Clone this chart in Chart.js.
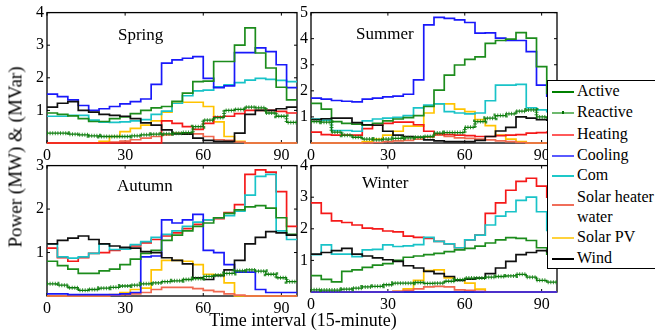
<!DOCTYPE html>
<html>
<head>
<meta charset="utf-8">
<script src="https://cdn.jsdelivr.net/npm/chart.js@4.4.0/dist/chart.umd.min.js"></script>
<style>
  html, body { margin:0; padding:0; background:#fff; }
  body { width:655px; height:332px; position:relative; overflow:hidden; font-family:'Liberation Serif','Times New Roman',serif; color:#000; }
  canvas { position:absolute; }
  .plabel { position:absolute; font-size:17px; line-height:17px; white-space:nowrap; }
  #legend { position:absolute; left:547px; top:80px; width:120px; height:187px; border:1.5px solid #000; background:#fff; z-index:5; }
  .lrow { position:absolute; left:29px; font-size:16px; line-height:16px; white-space:nowrap; }
  .lline { position:absolute; left:4px; width:22px; height:2px; }
</style>
</head>
<body>
<canvas id="c0" width="286" height="165" style="left:17px;top:0px;"></canvas>
<canvas id="c1" width="282" height="165" style="left:281px;top:0px;"></canvas>
<canvas id="c2" width="286" height="165" style="left:17px;top:153px;"></canvas>
<canvas id="c3" width="282" height="161" style="left:281px;top:153px;"></canvas>

<div class="plabel" style="left:118px;top:26px;">Spring</div>
<div class="plabel" style="left:356px;top:25px;">Summer</div>
<div class="plabel" style="left:117px;top:177px;">Autumn</div>
<div class="plabel" style="left:362px;top:174px;">Winter</div>

<div id="legend"></div>

<div style="position:absolute;left:15px;top:157px;transform:translate(-50%,-50%) rotate(-90deg);white-space:nowrap;font-size:19px;line-height:19px;">Power (MW) &amp; (MVar)</div>
<div style="position:absolute;left:303px;top:311px;transform:translateX(-50%);white-space:nowrap;font-size:18px;line-height:18px;">Time interval (15-minute)</div>

<script>
// ---------------- data ----------------
const intervals = [0,4,8,12,16,20,24,28,32,36,40,44,48,52,56,60,64,68,72,76,80,84,88,92]; // start of each hourly step (15-min index)
const dayEnd = 96;
const xTicks = [0,30,60,90];
const seriesNames = ['Active','Reactive','Heating','Cooling','Com','Solar heater water','Solar PV','Wind'];
const seasonNames = ['Spring','Summer','Autumn','Winter'];
const yMaxes = [4,5,3,4];

// Spring
const activeSpring   = [0.92,0.88,0.83,0.75,0.66,0.66,0.75,0.8,0.9,1.0,1.08,1.12,1.28,1.53,1.88,1.9,2.5,2.5,3.0,3.53,2.76,2.3,1.71,1.32];
const reactiveSpring = [0.3,0.3,0.27,0.25,0.22,0.2,0.2,0.2,0.22,0.25,0.27,0.28,0.3,0.32,0.5,0.7,0.78,1.0,1.03,1.1,1.08,0.92,0.82,0.63];
const heatingSpring  = [0,0,0,0,0,0,0,0,0,0,0,0.68,0.6,0.5,0.42,0.6,0.8,0.82,0.9,1.0,1.0,1.0,0.97,0.92];
const coolingSpring  = [1.5,1.42,1.32,1.15,1.0,1.05,1.12,1.2,1.27,1.35,1.8,2.45,2.55,2.6,2.65,1.98,1.7,1.75,2.77,2.77,2.92,2.8,2.4,1.7];
const comSpring      = [0.82,0.82,0.85,0.85,0.7,0.64,0.63,0.65,0.68,0.72,0.88,0.98,1.22,1.45,1.6,1.62,1.72,1.78,1.85,1.93,1.98,1.95,1.92,1.88];
const shwSpring      = [0,0,0,0,0,0,0.03,0.06,0.1,0.15,0.2,0.25,0.3,0.3,0.28,0.2,0.1,0.08,0.03,0,0,0,0,0];
const pvSpring       = [0,0,0,0,0,0.05,0.2,0.35,0.45,0.55,0.68,0.95,1.25,1.25,1.25,1.12,0.65,0.2,0.05,0,0,0,0,0];
const windSpring     = [1.1,1.22,1.27,1.0,0.95,0.88,0.85,0.82,0.75,0.62,0.55,0.4,0.28,0.27,0.15,0.08,0.05,0.05,0.3,0.88,1.0,1.0,1.05,1.1];

// Summer
const activeSummer   = [1.52,1.3,0.82,0.75,0.72,0.68,0.75,0.85,0.92,0.97,1.05,1.4,2.03,2.6,2.99,3.21,3.3,3.82,3.93,3.98,4.23,4.02,2.93,1.9];
const reactiveSummer = [0.82,0.8,0.42,0.3,0.22,0.15,0.12,0.15,0.18,0.2,0.22,0.25,0.38,0.4,0.4,0.6,0.82,0.95,1.05,1.12,1.22,1.27,1.0,0.95];
const heatingSummer  = [0.42,0.32,0.3,0.3,0.3,0.55,0.68,0.75,0.8,0.8,0.7,0.45,0.35,0.32,0.3,0.28,0.25,0.25,0.28,0.3,0.32,0.38,0.4,0.42];
const coolingSummer  = [1.72,1.68,1.63,1.6,1.58,1.68,1.72,1.77,1.8,1.87,2.42,4.53,4.82,4.78,4.72,4.62,4.21,4.22,4.02,3.93,3.93,3.5,2.22,1.8];
const comSummer      = [0.92,0.88,0.48,0.48,0.45,0.85,0.92,0.95,0.98,1.05,1.35,1.45,1.5,1.2,1.15,1.12,1.15,1.62,2.22,2.22,2.25,1.35,1.27,1.2];
const shwSummer      = [0,0,0,0,0,0,0.02,0.05,0.08,0.1,0.15,0.22,0.3,0.25,0.2,0.18,0.15,0.12,0.08,0.05,0.02,0,0,0];
const pvSummer       = [0,0,0,0,0,0.05,0.15,0.3,0.45,0.65,0.65,1.15,1.5,1.5,1.3,1.2,0.9,0.67,0.3,0.15,0.05,0,0,0];
const windSummer     = [0.9,0.93,0.95,0.95,0.78,0.7,0.68,0.45,0.3,0.25,0.22,0.12,0.08,0.05,0.05,0.05,0.1,0.25,0.46,0.6,1.0,0.95,0.9,0.88];

// Autumn
const activeAutumn   = [0.8,0.7,0.62,0.52,0.52,0.58,0.62,0.72,0.85,0.98,1.05,1.28,1.4,1.5,1.6,1.68,1.8,1.9,1.98,2.05,2.08,2.02,1.8,1.42];
const reactiveAutumn = [0.28,0.25,0.19,0.13,0.15,0.18,0.2,0.23,0.25,0.28,0.3,0.33,0.35,0.38,0.4,0.45,0.48,0.52,0.58,0.6,0.57,0.5,0.42,0.33];
const heatingAutumn  = [1.1,0.88,0.8,0.88,0.98,1.0,1.05,1.08,1.15,1.22,1.3,1.38,1.45,1.55,1.65,1.75,1.78,1.92,2.1,2.8,2.9,2.85,2.4,1.6];
const coolingAutumn  = [0.05,0.05,0.03,0.03,0.03,0.03,0.03,0.05,0.08,0.9,0.92,1.75,1.68,1.75,1.88,1.05,1.0,0.72,0.55,0.55,0.15,0.08,0.08,0.08];
const comAutumn      = [1.2,0.9,0.87,0.9,0.98,1.2,1.07,1.08,1.18,1.25,1.35,1.42,1.5,1.6,1.7,1.75,1.8,1.85,1.95,2.32,2.75,2.8,1.5,1.3];
const shwAutumn      = [0,0,0,0,0,0,0.02,0.03,0.05,0.08,0.15,0.2,0.2,0.2,0.17,0.13,0.1,0.05,0.02,0,0,0,0,0];
const pvAutumn       = [0,0,0,0,0,0,0.03,0.08,0.15,0.18,0.6,0.82,0.82,0.8,0.72,0.5,0.48,0.3,0,0,0,0,0,0];
const windAutumn     = [1.2,1.28,1.33,1.38,1.3,1.2,1.15,1.12,1.1,1.02,1.0,0.88,0.82,0.74,0.42,0.38,0.47,0.6,0.82,1.2,1.35,1.48,1.45,1.4];

// Winter
const activeWinter   = [0.52,0.4,0.32,0.65,0.7,0.78,0.85,0.9,1.0,1.1,1.14,1.18,1.22,1.28,1.33,1.38,1.45,1.55,1.65,1.72,1.7,1.63,1.4,1.2];
const reactiveWinter = [0.07,0.06,0.06,0.09,0.12,0.16,0.18,0.23,0.28,0.28,0.3,0.27,0.28,0.34,0.39,0.44,0.44,0.47,0.49,0.51,0.56,0.47,0.37,0.31];
const heatingWinter  = [2.82,2.49,2.25,2.2,2.12,2.02,2.0,1.93,1.9,1.77,1.73,1.7,1.6,1.52,1.4,1.65,1.8,2.49,2.82,3.22,3.5,3.6,3.35,3.0];
const coolingWinter  = [0,0,0,0,0,0,0,0,0,0,0,0,0,0,0,0,0,0,0,0,0,0,0,0];
const comWinter      = [1.18,1.49,1.2,1.2,1.12,1.33,1.35,1.49,1.44,1.46,1.5,1.73,1.6,1.52,1.4,1.65,1.8,2.12,2.4,2.54,2.9,3.0,2.54,1.95];
const shwWinter      = [0,0,0,0,0,0,0,0,0.02,0.05,0.1,0.16,0.18,0.16,0.07,0.05,0.02,0,0,0,0,0,0,0];
const pvWinter       = [0,0,0,0,0,0,0,0,0.02,0.1,0.37,0.68,0.7,0.45,0.38,0.28,0.09,0,0,0,0,0,0,0];
const windWinter     = [1.2,1.25,1.31,1.38,1.2,1.14,1.08,1.02,0.97,0.83,0.76,0.65,0.58,0.49,0.37,0.41,0.44,0.58,0.76,0.97,1.18,1.25,1.31,1.28];

const seasonData = [
  [activeSpring, reactiveSpring, heatingSpring, coolingSpring, comSpring, shwSpring, pvSpring, windSpring],
  [activeSummer, reactiveSummer, heatingSummer, coolingSummer, comSummer, shwSummer, pvSummer, windSummer],
  [activeAutumn, reactiveAutumn, heatingAutumn, coolingAutumn, comAutumn, shwAutumn, pvAutumn, windAutumn],
  [activeWinter, reactiveWinter, heatingWinter, coolingWinter, comWinter, shwWinter, pvWinter, windWinter]
];

// ---------------- styles ----------------
const colors = {
  'Active': 'rgb(28,140,28)',
  'Reactive': 'rgb(10,120,10)',
  'Heating': 'rgb(245,25,25)',
  'Cooling': 'rgb(25,25,250)',
  'Com': 'rgb(25,195,200)',
  'Solar heater water': 'rgb(240,105,80)',
  'Solar PV': 'rgb(255,195,0)',
  'Wind': 'rgb(15,15,15)'
};
const legendColors = {
  'Active': 'rgb(0,128,0)',
  'Reactive': 'rgb(110,185,110)',
  'Heating': 'rgb(255,90,90)',
  'Cooling': 'rgb(90,90,255)',
  'Com': 'rgb(30,200,200)',
  'Solar heater water': 'rgb(240,110,90)',
  'Solar PV': 'rgb(255,210,60)',
  'Wind': 'rgb(0,0,0)'
};
const drawOrder = ['Reactive','Wind','Active','Cooling','Com','Heating','Solar heater water','Solar PV'];

Chart.defaults.font.family = "'Liberation Serif','Times New Roman',serif";
Chart.defaults.font.size = 16;
Chart.defaults.color = '#000';

function pts(vals) {
  const p = intervals.map((x, i) => ({x: x, y: vals[i]}));
  p.push({x: dayEnd, y: vals[vals.length - 1]});
  return p;
}

const framePlugin = {
  id: 'frame',
  beforeDatasetsDraw(chart) {
    const {ctx, chartArea: a, scales} = chart;
    const xs = scales.x, ys = scales.y;
    ctx.save();
    ctx.strokeStyle = '#000';
    ctx.lineWidth = 1.3;
    ctx.strokeRect(a.left, a.top, a.right - a.left, a.bottom - a.top);
    ctx.lineWidth = 1;
    ctx.beginPath();
    xs.ticks.forEach(t => {
      const px = xs.getPixelForValue(t.value);
      ctx.moveTo(px, a.bottom); ctx.lineTo(px, a.bottom - 3);
      ctx.moveTo(px, a.top); ctx.lineTo(px, a.top + 3);
    });
    ys.ticks.forEach(t => {
      const py = ys.getPixelForValue(t.value);
      ctx.moveTo(a.left, py); ctx.lineTo(a.left + 3, py);
      ctx.moveTo(a.right, py); ctx.lineTo(a.right - 3, py);
    });
    ctx.stroke();
    ctx.restore();
  }
};

function buildDatasets(si) {
  const ds = [];
  drawOrder.forEach(name => {
    const vals = seasonData[si][seriesNames.indexOf(name)];
    if (name === 'Reactive') {
      ds.push({label: name + ' markers', data: pts(vals), stepped: true, borderColor: 'rgba(20,130,20,0.85)',
        borderWidth: 4, borderDash: [1, 1.6], pointRadius: 0, fill: false, clip: 4});
      ds.push({label: name, data: pts(vals), stepped: true, borderColor: colors[name],
        borderWidth: 1.3, pointRadius: 0, fill: false, clip: 4});
    } else {
      ds.push({label: name, data: pts(vals), stepped: true, borderColor: colors[name],
        borderWidth: 1.7, pointRadius: 0, fill: false, clip: 4});
    }
  });
  return ds;
}

seasonNames.forEach((season, si) => {
  new Chart(document.getElementById('c' + si), {
    type: 'line',
    data: { datasets: buildDatasets(si) },
    options: {
      responsive: false,
      animation: false,
      devicePixelRatio: 1,
      layout: { padding: { top: 12, right: 6, left: 0, bottom: 0 } },
      plugins: { legend: { display: false }, tooltip: { enabled: false }, title: { display: false } },
      scales: {
        x: {
          type: 'linear', min: 0, max: dayEnd,
          afterBuildTicks(s) { s.ticks = xTicks.map(v => ({value: v})); },
          ticks: { padding: 3, maxRotation: 0, autoSkip: false, includeBounds: false },
          grid: { display: false, drawTicks: false },
          border: { display: false },
          afterFit(s) { s.height = 22; }
        },
        y: {
          type: 'linear', min: 0, max: yMaxes[si],
          ticks: { stepSize: 1, padding: 3, callback: v => (v === 0 ? '' : v) },
          grid: { display: false, drawTicks: false },
          border: { display: false },
          afterFit(s) { s.width = 30; }
        }
      }
    },
    plugins: [framePlugin]
  });
});

// ---------------- legend ----------------
const legendRows = [
  {name: 'Active', text: ['Active'], cy: 11},
  {name: 'Reactive', text: ['Reactive'], cy: 31.7},
  {name: 'Heating', text: ['Heating'], cy: 54.3},
  {name: 'Cooling', text: ['Cooling'], cy: 75},
  {name: 'Com', text: ['Com'], cy: 95},
  {name: 'Solar heater water', text: ['Solar heater', 'water'], cy: 124.3, tcy: [116.7, 136.7]},
  {name: 'Solar PV', text: ['Solar PV'], cy: 156.7},
  {name: 'Wind', text: ['Wind'], cy: 177.7}
];
const lg = document.getElementById('legend');
legendRows.forEach(r => {
  const ln = document.createElement('div');
  ln.className = 'lline';
  ln.style.top = (r.cy - 1) + 'px';
  ln.style.background = legendColors[r.name];
  lg.appendChild(ln);
  if (r.name === 'Reactive') {
    const dot = document.createElement('div');
    dot.style.cssText = 'position:absolute;left:14px;width:2px;height:3px;background:rgb(0,110,0);top:' + (r.cy - 1.5) + 'px;';
    lg.appendChild(dot);
  }
  r.text.forEach((t, i) => {
    const d = document.createElement('div');
    d.className = 'lrow';
    const c = r.tcy ? r.tcy[i] : r.cy;
    d.style.top = (c - 9) + 'px';
    d.textContent = t;
    lg.appendChild(d);
  });
});
</script>
</body>
</html>
